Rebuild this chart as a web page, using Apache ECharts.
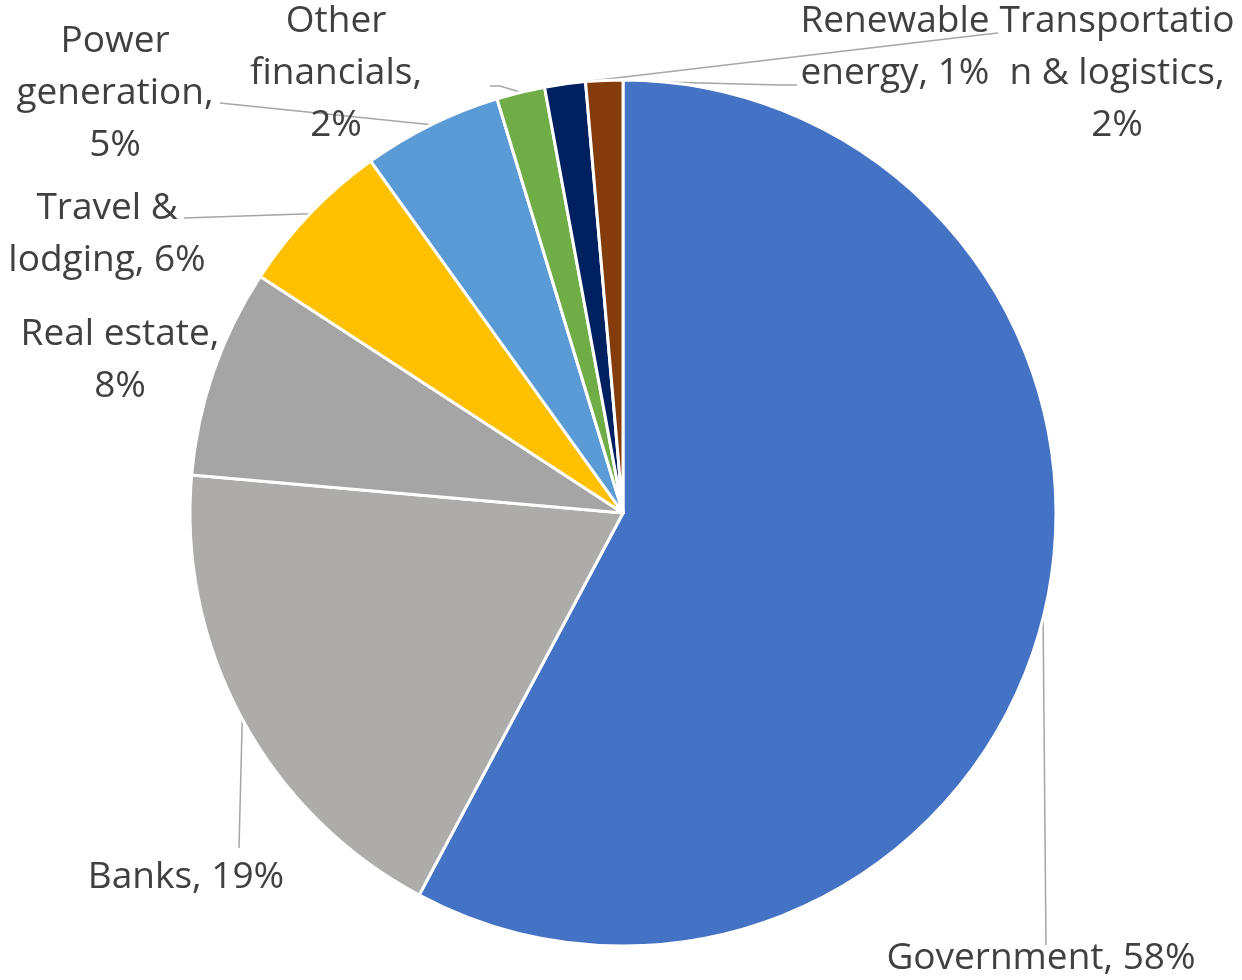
<!DOCTYPE html>
<html><head><meta charset="utf-8">
<script src="https://cdn.jsdelivr.net/npm/echarts@6/dist/echarts.min.js"></script>
<style>html,body{margin:0;padding:0;background:#fff}#chart{width:1242px;height:980px}</style>
</head><body><div id="chart"></div>
<script>
// ---- data ----
const categories = ["Government","Banks","Real estate","Travel & lodging","Power generation","Other financials","Transportation & logistics","Renewable energy"];
const shares = [57.8, 18.6, 7.8, 5.9, 5.2, 1.8, 1.52, 1.38];
const labelTemplates = ["Government, {p}","Banks, {p}","Real estate,\n{p}","Travel &\nlodging, {p}","Power\ngeneration,\n{p}","Other\nfinancials,\n{p}","Transportatio\nn & logistics,\n{p}","Renewable\nenergy, {p}"];

// ---- styles / layout ----
const colors = ["#4472C4","#AEABAB","#A5A5A5","#FFC000","#5B9BD5","#70AD47","#002060","#843C0C"];
const labelPos = [[1041,958],[186,877],[120,360],[107,234],[115,93],[336,73],[1117,73],[895,47]];
const leaderEnds = [[[1046,945]],[[239,848]],null,[[184,218]],[[220,103]],[[500,86],[490,86]],[[980,35],[998,33]],[[780,85],[797,85]]];

const chart = echarts.init(document.getElementById('chart'), null, {renderer:'canvas'});
const data = categories.map((c,i)=>{
  const d = {name:c, value:shares[i], itemStyle:{color:colors[i]}};
  if(!leaderEnds[i]) d.labelLine = {show:false};
  return d;
});
chart.setOption({
  animation:false,
  backgroundColor:'#ffffff',
  series:[{
    type:'pie',
    center:[623,513],
    radius:433,
    startAngle:90,
    clockwise:true,
    avoidLabelOverlap:false,
    itemStyle:{borderColor:'#ffffff', borderWidth:3},
    label:{
      show:true, position:'outside', color:'#404040',
      fontFamily:'Open Sans', fontSize:37, lineHeight:52,
      formatter:p=>labelTemplates[p.dataIndex].replace('{p}', Math.round(p.percent)+'%')
    },
    labelLine:{show:true, smooth:false, lineStyle:{color:'#A6A6A6', width:1.5}},
    labelLayout:function(params){
      const i = params.dataIndex;
      const res = {x:labelPos[i][0], y:labelPos[i][1], align:'center', verticalAlign:'middle'};
      if(leaderEnds[i] && params.labelLinePoints){
        res.labelLinePoints = [params.labelLinePoints[0]].concat(leaderEnds[i]);
      }
      return res;
    },
    emphasis:{disabled:true},
    data:data
  }]
});
</script>
</body></html>
